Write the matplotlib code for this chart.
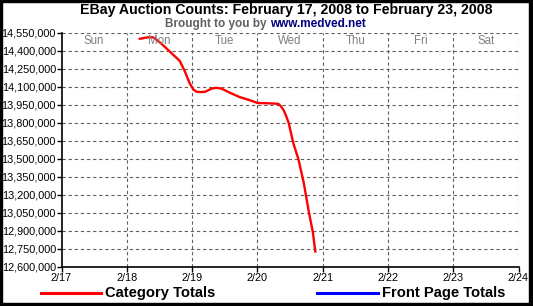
import matplotlib
matplotlib.use("Agg")
import matplotlib.pyplot as plt
from matplotlib.patches import Rectangle
from matplotlib.lines import Line2D

plt.rcParams['font.family'] = ['Liberation Sans', 'DejaVu Sans']

# Data: day offset since 2/17 00:00, category totals
cat_days = [1.18, 1.32, 1.40, 1.45, 1.55, 1.66, 1.81, 1.89, 1.96, 2.02, 2.07, 2.13,
            2.20, 2.30, 2.37, 2.45, 2.58, 2.73, 2.89, 3.00, 3.17, 3.32, 3.36, 3.40,
            3.44, 3.48, 3.55, 3.63, 3.71, 3.79, 3.85, 3.89]
cat_vals = [14500000, 14514000, 14514000, 14497000, 14451000, 14395000, 14318000, 14230000,
            14134000, 14079000, 14060000, 14058000, 14060000, 14087000, 14093000, 14087000,
            14052000, 14016000, 13989000, 13967000, 13964000, 13960000, 13940000, 13909000,
            13860000, 13800000, 13634000, 13496000, 13303000, 13055000, 12890000, 12720000]
front_days = []
front_vals = []

x_labels = ["2/17", "2/18", "2/19", "2/20", "2/21", "2/22", "2/23", "2/24"]
weekdays = ["Sun", "Mon", "Tue", "Wed", "Thu", "Fri", "Sat"]
y_min, y_max, y_step = 12600000, 14550000, 150000

W, H = 533, 306
fig = plt.figure(figsize=(W/100, H/100), dpi=100)
ax = fig.add_axes([61.5/W, 1-267/H, (518.5-61.5)/W, (267-33)/H])

ax.plot(cat_days, cat_vals, color='#ff0000', lw=1.7, solid_capstyle='butt')
ax.plot(front_days, front_vals, color='#0000ff', lw=1.7)

ax.set_xlim(0, 7)
ax.set_ylim(y_min, y_max)
ax.set_xticks(range(8))
ax.set_xticklabels(x_labels)
yt = list(range(y_min, y_max + 1, y_step))
ax.set_yticks(yt)
ax.set_yticklabels([f"{v:,}" for v in yt])
ax.tick_params(axis='both', direction='out', length=3.5, width=1, labelsize=7.8, pad=0.5, colors='black')

for v in yt[1:]:
    ax.axhline(v, color='#606060', lw=0.8, ls=(0, (3, 2.5)), zorder=0)
for d in range(1, 8):
    ax.axvline(d, color='#606060', lw=0.8, ls=(0, (3, 2.5)), zorder=0)

ax.spines['top'].set_visible(False)
ax.spines['right'].set_visible(False)
ax.spines['left'].set_linewidth(1.2)
ax.spines['bottom'].set_linewidth(1.2)

for i, wd in enumerate(weekdays):
    ax.text(i + 0.5, y_max - 70000, wd, ha='center', va='center', color='#808080', fontsize=8.3)

fig.text(286.5/W, 1-10/H, "EBay Auction Counts: February 17, 2008 to February 23, 2008",
         ha='center', va='center', fontsize=10.2, fontweight='bold')
fig.text(270/W, 1-24/H, "Brought to you by ", ha='right', va='center', fontsize=8.5,
         fontweight='bold', color='#606060')
fig.text(270/W, 1-24/H, "www.medved.net", ha='left', va='center', fontsize=8.5,
         fontweight='bold', color='#000080')

# legend
fig.add_artist(Line2D([41/W, 101/W], [1-292.5/H]*2, color='#ff0000', lw=2.2))
fig.text(105/W, 1-292.5/H, "Category Totals", ha='left', va='center', fontsize=10.6, fontweight='bold')
fig.add_artist(Line2D([317/W, 378/W], [1-292.5/H]*2, color='#0000ff', lw=2.2))
fig.text(382/W, 1-292.5/H, "Front Page Totals", ha='left', va='center', fontsize=10.6, fontweight='bold')

# frame (thicker on right/bottom like a shadow)
fig.add_artist(Rectangle((0, 1-1.5/H), 1, 1.5/H, transform=fig.transFigure, color='black'))
fig.add_artist(Rectangle((0, 0), 2/W, 1, transform=fig.transFigure, color='black'))
fig.add_artist(Rectangle((1-4/W, 0), 4/W, 1, transform=fig.transFigure, color='black'))
fig.add_artist(Rectangle((0, 0), 1, 3/H, transform=fig.transFigure, color='black'))

fig.savefig("out.png", dpi=100)
